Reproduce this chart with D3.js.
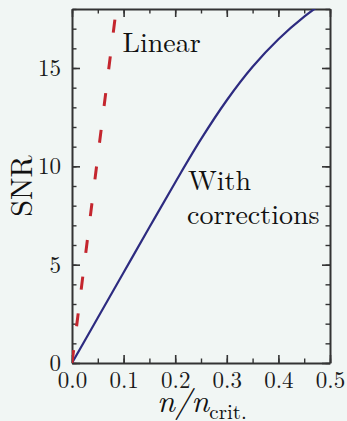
<!DOCTYPE html>
<html>
<head>
<meta charset="utf-8">
<script src="https://cdn.jsdelivr.net/npm/d3@7"></script>
<style>
    html, body { margin: 0; padding: 0; background: #f1f6f4; }
    svg { display: block; }
    .axis path, .axis line { stroke: #333; }
</style>
</head>
<body>
<svg id="chart"></svg>
<script>
// values
const linearN = [0, 0.0857];
const linearSnr = [0, 18];

const corrN = [0, 0.05, 0.1, 0.15, 0.2, 0.25, 0.3, 0.35, 0.4, 0.45, 0.5];
const corrSnr = [0, 2.3, 4.6, 6.9, 9.18, 11.38, 13.36, 15.06, 16.46, 17.61, 18.56];

const xTicks = [0, 0.1, 0.2, 0.3, 0.4, 0.5];
const xTickLabels = ['0.0', '0.1', '0.2', '0.3', '0.4', '0.5'];
const yTicks = [0, 5, 10, 15];

const FONT = '"Latin Modern Roman", "Liberation Serif", serif';
const W = 347;
const H = 421;
const margin = { top: 9, right: 17, bottom: 58, left: 72 };
const width = W - margin.left - margin.right;
const height = H - margin.top - margin.bottom;

const svg = d3.select('#chart')
    .attr('width', W)
    .attr('height', H);

const g = svg.append('g')
    .attr('transform', `translate(${margin.left},${margin.top})`);

const x = d3.scaleLinear().domain([0, 0.5]).range([0, width]);
const y = d3.scaleLinear().domain([0, 18]).range([height, 0]);

g.append('clipPath')
    .attr('id', 'plot-clip')
    .append('rect')
    .attr('width', width)
    .attr('height', height);

const xMinor = d3.range(0, 0.5001, 0.05);
const yMinor = d3.range(0, 18.001, 1);

// minor ticks, all four sides, pointing inward
const minorAxes = [
    [d3.axisBottom(x).tickValues(xMinor), `translate(0,${height})`],
    [d3.axisTop(x).tickValues(xMinor), 'translate(0,0)'],
    [d3.axisLeft(y).tickValues(yMinor), 'translate(0,0)'],
    [d3.axisRight(y).tickValues(yMinor), `translate(${width},0)`],
];
minorAxes.forEach(([axis, tr]) => {
    const a = g.append('g')
        .attr('class', 'axis minor')
        .attr('transform', tr)
        .call(axis.tickSize(-4.5).tickSizeOuter(0).tickFormat(''));
    a.select('.domain').remove();
    a.selectAll('line').attr('stroke-width', 1.4);
});

// major ticks
const bottomAxis = g.append('g')
    .attr('class', 'axis')
    .attr('transform', `translate(0,${height})`)
    .call(d3.axisBottom(x)
        .tickValues(xTicks)
        .tickFormat((d, i) => xTickLabels[i])
        .tickSize(-8)
        .tickSizeOuter(0)
        .tickPadding(9));

const leftAxis = g.append('g')
    .attr('class', 'axis')
    .call(d3.axisLeft(y)
        .tickValues(yTicks)
        .tickFormat(d3.format('d'))
        .tickSize(-8)
        .tickSizeOuter(0)
        .tickPadding(11));

const topAxis = g.append('g')
    .attr('class', 'axis')
    .call(d3.axisTop(x).tickValues(xTicks).tickFormat('').tickSize(-8).tickSizeOuter(0));

const rightAxis = g.append('g')
    .attr('class', 'axis')
    .attr('transform', `translate(${width},0)`)
    .call(d3.axisRight(y).tickValues(yTicks).tickFormat('').tickSize(-8).tickSizeOuter(0));

[bottomAxis, leftAxis, topAxis, rightAxis].forEach(a => {
    a.select('.domain').attr('stroke-width', 2);
    a.selectAll('.tick line').attr('stroke-width', 1.6);
    a.selectAll('text')
        .style('font-family', FONT)
        .style('font-size', '23px')
        .style('fill', '#1a1a1a');
});

// lines
const line = d3.line()
    .x(d => x(d[0]))
    .y(d => y(d[1]));

g.append('path')
    .datum(corrN.map((n, i) => [n, corrSnr[i]]))
    .attr('clip-path', 'url(#plot-clip)')
    .attr('fill', 'none')
    .attr('stroke', '#2d2b80')
    .attr('stroke-width', 2.2)
    .attr('d', line.curve(d3.curveCatmullRom.alpha(0.5)));

g.append('path')
    .datum(linearN.map((n, i) => [n, linearSnr[i]]))
    .attr('clip-path', 'url(#plot-clip)')
    .attr('fill', 'none')
    .attr('stroke', '#c4262e')
    .attr('stroke-width', 3)
    .attr('stroke-dasharray', '13,24')
    .attr('d', line.curve(d3.curveLinear));

// annotations
const note = (tx, ty, str) => g.append('text')
    .attr('x', tx)
    .attr('y', ty)
    .style('font-family', FONT)
    .style('font-size', '28px')
    .style('fill', '#111')
    .text(str);

note(122.5 - margin.left, 52 - margin.top, 'Linear');
note(188 - margin.left, 189.5 - margin.top, 'With');
note(187 - margin.left, 223.5 - margin.top, 'corrections');

// axis labels
svg.append('text')
    .attr('transform', 'translate(32,186) rotate(-90)')
    .attr('text-anchor', 'middle')
    .style('font-family', FONT)
    .style('font-size', '30px')
    .style('fill', '#111')
    .text('SNR');

const xl = svg.append('text')
    .attr('x', 157)
    .attr('y', 411.5)
    .style('font-family', FONT)
    .style('font-size', '32px')
    .style('fill', '#111');
xl.append('tspan').style('font-style', 'italic').text('n');
xl.append('tspan').style('font-style', 'italic').text('/');
xl.append('tspan').style('font-style', 'italic').text('n');
xl.append('tspan')
    .attr('dy', 7.5)
    .style('font-size', '21px')
    .text('crit.');
</script>
</body>
</html>
